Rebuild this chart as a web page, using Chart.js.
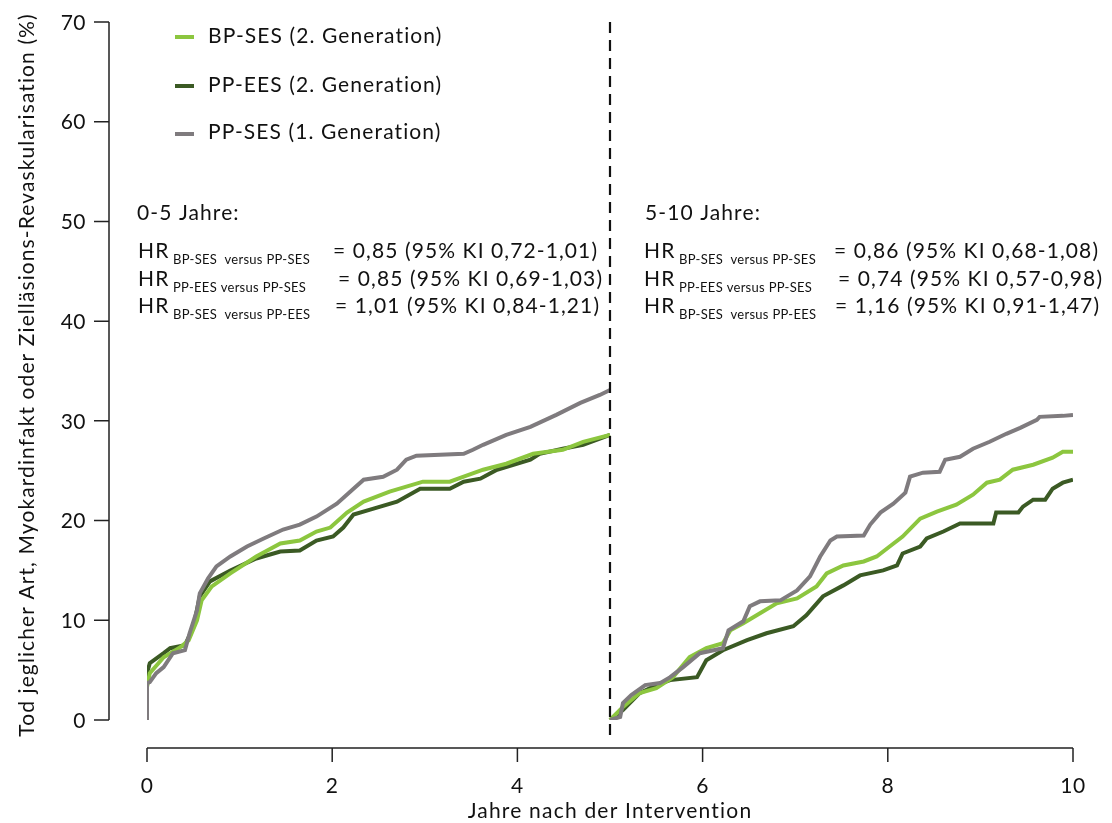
<!DOCTYPE html>
<html>
<head>
<meta charset="utf-8">
<script src="https://cdn.jsdelivr.net/npm/chart.js@4.4.1/dist/chart.umd.min.js"></script>
<style>
  html, body { margin: 0; padding: 0; background: #fff; }
  #wrap { width: 1112px; height: 823px; position: relative; }
</style>
</head>
<body>
<div id="wrap"><canvas id="km"></canvas></div>
<script>
const seriesNames = ["BP-SES (2. Generation)", "PP-EES (2. Generation)", "PP-SES (1. Generation)"];
const seriesColors = ["#8cc63f", "#3b5a24", "#7f7b7e"];

// 0-5 Jahre
const bpSesT1 = [0, 0, 0.03, 0.18, 0.36, 0.45, 0.54, 0.59, 0.70, 0.90, 1.18, 1.44, 1.65, 1.83, 1.98, 2.16, 2.34, 2.62, 2.98, 3.27, 3.42, 3.63, 3.88, 4.17, 4.49, 4.71, 5.0];
const bpSesV1 = [0, 3.3, 4.7, 6.3, 7.3, 8.0, 10.0, 12.0, 13.4, 14.7, 16.4, 17.7, 18.0, 18.9, 19.3, 20.8, 21.9, 22.9, 23.9, 23.9, 24.4, 25.1, 25.7, 26.7, 27.1, 27.9, 28.6];
const ppEesT1 = [0, 0, 0.03, 0.18, 0.25, 0.41, 0.50, 0.57, 0.68, 0.90, 1.18, 1.44, 1.65, 1.83, 2.01, 2.12, 2.23, 2.41, 2.70, 2.95, 3.27, 3.42, 3.60, 3.78, 4.14, 4.24, 4.49, 4.71, 5.0];
const ppEesV1 = [0, 4.7, 5.7, 6.7, 7.2, 7.5, 9.3, 12.4, 13.9, 15.0, 16.2, 16.9, 17.0, 18.0, 18.4, 19.3, 20.6, 21.1, 21.9, 23.2, 23.2, 23.9, 24.2, 25.1, 26.1, 26.7, 27.2, 27.6, 28.6];
const ppSesT1 = [0, 0, 0.03, 0.10, 0.18, 0.28, 0.41, 0.46, 0.54, 0.57, 0.66, 0.75, 0.90, 1.08, 1.26, 1.47, 1.65, 1.83, 2.05, 2.23, 2.34, 2.55, 2.70, 2.80, 2.91, 3.42, 3.52, 3.63, 3.88, 4.14, 4.42, 4.68, 4.89, 5.0];
const ppSesV1 = [0, 3.7, 3.8, 4.7, 5.3, 6.7, 7.0, 8.7, 11.0, 12.7, 14.2, 15.4, 16.4, 17.4, 18.2, 19.1, 19.6, 20.4, 21.7, 23.2, 24.1, 24.4, 25.1, 26.1, 26.5, 26.7, 27.1, 27.6, 28.6, 29.4, 30.6, 31.8, 32.6, 33.1];

// 5-10 Jahre
const bpSesT2 = [5.0, 5.14, 5.32, 5.50, 5.68, 5.86, 6.04, 6.22, 6.30, 6.44, 6.62, 6.80, 7.02, 7.23, 7.34, 7.52, 7.74, 7.88, 8.02, 8.16, 8.35, 8.53, 8.74, 8.92, 9.07, 9.21, 9.35, 9.57, 9.78, 9.89, 10.0];
const bpSesV2 = [0, 1.3, 2.7, 3.2, 4.3, 6.3, 7.2, 7.7, 9.0, 9.7, 10.7, 11.7, 12.2, 13.4, 14.7, 15.5, 15.9, 16.4, 17.4, 18.4, 20.2, 20.9, 21.6, 22.6, 23.8, 24.1, 25.1, 25.6, 26.3, 26.9, 26.9];
const ppEesT2 = [5.0, 5.14, 5.32, 5.50, 5.65, 5.94, 6.04, 6.22, 6.48, 6.69, 6.98, 7.12, 7.30, 7.52, 7.70, 7.95, 8.10, 8.16, 8.35, 8.42, 8.60, 8.78, 9.14, 9.17, 9.41, 9.46, 9.57, 9.70, 9.78, 9.89, 10.0];
const ppEesV2 = [0, 1.0, 2.7, 3.5, 4.0, 4.3, 6.0, 7.0, 8.0, 8.7, 9.4, 10.5, 12.4, 13.5, 14.5, 15.0, 15.5, 16.7, 17.4, 18.2, 18.9, 19.7, 19.7, 20.8, 20.8, 21.4, 22.1, 22.1, 23.2, 23.8, 24.1];
const ppSesT2 = [5.0, 5.11, 5.14, 5.23, 5.38, 5.54, 5.65, 5.79, 5.97, 6.22, 6.28, 6.44, 6.51, 6.62, 6.84, 7.02, 7.16, 7.27, 7.38, 7.45, 7.74, 7.81, 7.92, 8.06, 8.19, 8.24, 8.38, 8.56, 8.62, 8.78, 8.92, 9.10, 9.28, 9.43, 9.61, 9.64, 9.89, 10.0];
const ppSesV2 = [0, 0.3, 1.7, 2.5, 3.5, 3.7, 4.3, 5.3, 6.7, 7.2, 9.0, 9.9, 11.4, 11.9, 12.0, 13.0, 14.4, 16.4, 18.0, 18.4, 18.5, 19.6, 20.8, 21.7, 22.8, 24.4, 24.8, 24.9, 26.1, 26.4, 27.2, 27.9, 28.7, 29.3, 30.1, 30.4, 30.5, 30.6];

const xTicks = [0, 2, 4, 6, 8, 10];
const yTicks = [0, 10, 20, 30, 40, 50, 60, 70];
const splitYear = 5;

const hrSubs = ["BP-SES  versus PP-SES", "PP-EES versus PP-SES", "BP-SES  versus PP-EES"];
const hrEarly = ["= 0,85 (95% KI 0,72-1,01)", "= 0,85 (95% KI 0,69-1,03)", "= 1,01 (95% KI 0,84-1,21)"];
const hrLate = ["= 0,86 (95% KI 0,68-1,08)", "= 0,74 (95% KI 0,57-0,98)", "= 1,16 (95% KI 0,91-1,47)"];

const FONT = 'Lato, "Noto Sans", sans-serif';
const INK = '#111';

// zwei Abschnitte, Lücke bei 5 Jahren
function toPoints(t1, v1, t2, v2) {
    const a = t1.map((x, i) => ({ x: x, y: v1[i] }));
    const b = t2.map((x, i) => ({ x: x, y: v2[i] }));
    return a.concat([{ x: splitYear, y: null }], b);
}

function hrRow(ctx, x0, base, sub, rest, restDx) {
    ctx.font = '21px ' + FONT;
    ctx.letterSpacing = '1.1px';
    ctx.fillText('HR', x0, base);
    ctx.font = '13px ' + FONT;
    ctx.letterSpacing = '0.3px';
    ctx.fillText(sub, x0 + 35, base + 5.5);
    ctx.font = '21px ' + FONT;
    ctx.letterSpacing = '1.1px';
    ctx.fillText(rest, x0 + restDx, base);
}

const decor = {
    id: 'decor',
    afterDatasetsDraw(chart) {
        const { ctx, scales: { x, y } } = chart;
        ctx.save();

        // Achsen (abgesetzt)
        ctx.strokeStyle = '#222';
        ctx.lineWidth = 1.5;
        ctx.setLineDash([]);
        ctx.beginPath();
        ctx.moveTo(109, y.getPixelForValue(0));
        ctx.lineTo(109, y.getPixelForValue(70));
        yTicks.forEach(v => {
            const py = y.getPixelForValue(v);
            ctx.moveTo(94, py);
            ctx.lineTo(109, py);
        });
        ctx.moveTo(x.getPixelForValue(0), 748);
        ctx.lineTo(x.getPixelForValue(10), 748);
        xTicks.forEach(v => {
            const px = x.getPixelForValue(v);
            ctx.moveTo(px, 748);
            ctx.lineTo(px, 762);
        });
        ctx.stroke();

        // Tick-Beschriftungen
        ctx.fillStyle = INK;
        ctx.font = '21px ' + FONT;
        ctx.letterSpacing = '0.5px';
        ctx.textAlign = 'right';
        ctx.textBaseline = 'middle';
        y.ticks.forEach(t => ctx.fillText(String(t.value), 86, y.getPixelForValue(t.value) + 1));
        ctx.textAlign = 'center';
        ctx.textBaseline = 'alphabetic';
        x.ticks.forEach(t => ctx.fillText(String(t.value), x.getPixelForValue(t.value), 793));

        // gestrichelte Linie bei 5 Jahren
        const p5 = x.getPixelForValue(splitYear);
        ctx.strokeStyle = INK;
        ctx.lineWidth = 2.2;
        ctx.setLineDash([11, 7]);
        ctx.beginPath();
        ctx.moveTo(p5, y.getPixelForValue(70));
        ctx.lineTo(p5, 741);
        ctx.stroke();
        ctx.setLineDash([]);

        // Legende
        const rows = [37, 86, 134];
        const bases = [43, 91.5, 138.5];
        ctx.textAlign = 'left';
        ctx.textBaseline = 'alphabetic';
        seriesNames.forEach((name, i) => {
            ctx.strokeStyle = seriesColors[i];
            ctx.lineWidth = 4;
            ctx.beginPath();
            ctx.moveTo(175, rows[i]);
            ctx.lineTo(194, rows[i]);
            ctx.stroke();
            ctx.fillStyle = INK;
            ctx.font = '21px ' + FONT;
            ctx.letterSpacing = '1.1px';
            ctx.fillText(name, 208, bases[i]);
        });

        // Hazard Ratios
        ctx.fillStyle = INK;
        ctx.font = '21px ' + FONT;
        ctx.letterSpacing = '1.1px';
        ctx.fillText('0-5 Jahre:', 137, 220);
        ctx.fillText('5-10 Jahre:', 645, 220);
        const hrBase = [258.3, 286, 313.3];
        const dxL = [195, 200, 197];
        const dxR = [190, 194, 191];
        hrSubs.forEach((s, i) => {
            hrRow(ctx, 138, hrBase[i], s, hrEarly[i], dxL[i]);
            hrRow(ctx, 644, hrBase[i], s, hrLate[i], dxR[i]);
        });

        // Achsentitel
        ctx.font = '21px ' + FONT;
        ctx.letterSpacing = '1.2px';
        ctx.textAlign = 'center';
        ctx.fillText('Jahre nach der Intervention', (x.left + x.right) / 2, 818);
        ctx.translate(27, 375);
        ctx.rotate(-Math.PI / 2);
        ctx.textBaseline = 'middle';
        ctx.letterSpacing = '1.1px';
        ctx.fillText('Tod jeglicher Art, Myokardinfakt oder Zielläsions-Revaskularisation (%)', 0, 0);
        ctx.restore();
    }
};

const lineStyle = { borderWidth: 4, pointRadius: 0, stepped: false, tension: 0, spanGaps: false, borderJoinStyle: 'miter', borderCapStyle: 'butt', fill: false };

new Chart(document.getElementById('km'), {
    type: 'line',
    data: {
        datasets: [
            Object.assign({ label: seriesNames[2], data: toPoints(ppSesT1, ppSesV1, ppSesT2, ppSesV2), borderColor: seriesColors[2], order: 1 }, lineStyle),
            Object.assign({ label: seriesNames[0], data: toPoints(bpSesT1, bpSesV1, bpSesT2, bpSesV2), borderColor: seriesColors[0], order: 2 }, lineStyle),
            Object.assign({ label: seriesNames[1], data: toPoints(ppEesT1, ppEesV1, ppEesT2, ppEesV2), borderColor: seriesColors[1], order: 3 }, lineStyle)
        ]
    },
    options: {
        responsive: true,
        maintainAspectRatio: false,
        animation: false,
        layout: { padding: { top: 22, right: 39, left: 0, bottom: 0 } },
        plugins: { legend: { display: false }, tooltip: { enabled: false } },
        scales: {
            x: {
                type: 'linear', min: 0, max: 10,
                afterFit: s => { s.height = 103; s.paddingLeft = 0; s.paddingRight = 0; },
                grid: { display: false, drawTicks: false },
                border: { display: false },
                afterBuildTicks: s => { s.ticks = xTicks.map(v => ({ value: v })); },
                ticks: { display: false }
            },
            y: {
                min: 0, max: 70,
                afterFit: s => { s.width = 147; s.paddingTop = 0; s.paddingBottom = 0; },
                grid: { display: false, drawTicks: false },
                border: { display: false },
                afterBuildTicks: s => { s.ticks = yTicks.map(v => ({ value: v })); },
                ticks: { display: false }
            }
        }
    },
    plugins: [decor]
});
</script>
</body>
</html>
